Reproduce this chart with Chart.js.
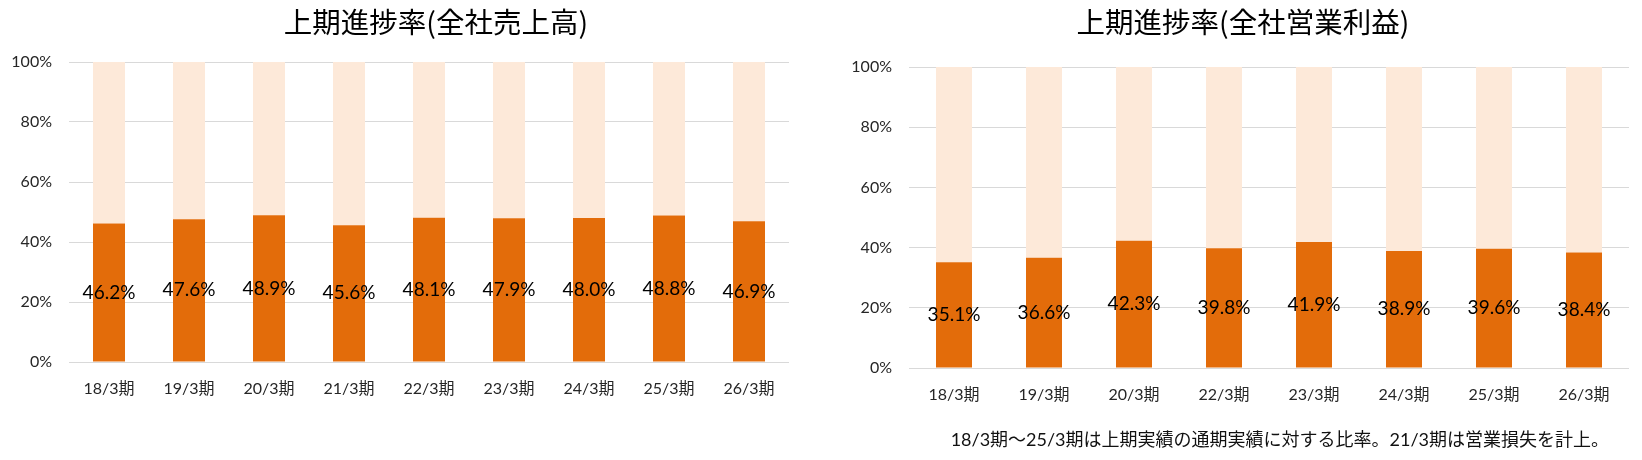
<!DOCTYPE html>
<html>
<head>
<meta charset="utf-8">
<script src="https://cdn.jsdelivr.net/npm/chart.js@4"></script>
<style>
  body { margin: 0; background: #fff; width: 1642px; height: 460px; position: relative; overflow: hidden; }
  .box { position: absolute; top: 0; height: 460px; }
  .title { position: absolute; top: 0; height: 42px; line-height: 42px; text-align: center; color: #000;
           font-family: "Noto Sans CJK JP", sans-serif; font-size: 28.5px; white-space: nowrap; }
  .note { position: absolute; color: #111; font-family: Lato, "Noto Sans CJK JP", sans-serif; font-size: 18px; white-space: nowrap; }
</style>
</head>
<body>
<div class="box" style="left:0;width:820px;"><canvas id="salesChart"></canvas></div>
<div class="box" style="left:820px;width:822px;"><canvas id="profitChart"></canvas></div>
<div class="title" style="left:229px;width:414px;">上期進捗率(全社売上高)</div>
<div class="title" style="left:1036px;width:414px;">上期進捗率(全社営業利益)</div>
<div class="note" style="right:33px;top:425px;">18/3期～25/3期は上期実績の通期実績に対する比率。21/3期は営業損失を計上。</div>
<script>
const salesLabels = ["18/3期", "19/3期", "20/3期", "21/3期", "22/3期", "23/3期", "24/3期", "25/3期", "26/3期"];
const salesRates = [46.2, 47.6, 48.9, 45.6, 48.1, 47.9, 48.0, 48.8, 46.9];

const profitLabels = ["18/3期", "19/3期", "20/3期", "22/3期", "23/3期", "24/3期", "25/3期", "26/3期"];
const profitRates = [35.1, 36.6, 42.3, 39.8, 41.9, 38.9, 39.6, 38.4];

const yTicks = [0, 20, 40, 60, 80, 100];

const darkOrange = "#E36C0A";
const lightOrange = "#FDE9D9";
const fontFamily = "Lato, 'Noto Sans CJK JP', sans-serif";

// draws the % text in the middle of the dark bars
const valueLabels = {
  id: "valueLabels",
  afterDatasetsDraw(chart) {
    const ctx = chart.ctx;
    const meta = chart.getDatasetMeta(0);
    ctx.save();
    ctx.font = "19px " + fontFamily;
    ctx.fillStyle = "#000";
    ctx.textAlign = "center";
    ctx.textBaseline = "middle";
    meta.data.forEach((bar, i) => {
      const v = chart.data.datasets[0].data[i];
      ctx.fillText(v.toFixed(1) + "%", bar.x, (bar.y + bar.base) / 2);
    });
    ctx.restore();
  }
};

function makeChart(id, labels, rates, opts) {
  const rest = rates.map(v => 100 - v);
  const ctx = document.getElementById(id).getContext("2d");
  return new Chart(ctx, {
    type: "bar",
    data: {
      labels: labels,
      datasets: [
        { data: rates, backgroundColor: darkOrange, barPercentage: 0.4, categoryPercentage: 1 },
        { data: rest, backgroundColor: lightOrange, barPercentage: 0.4, categoryPercentage: 1 }
      ]
    },
    options: {
      responsive: true,
      maintainAspectRatio: false,
      animation: false,
      layout: { padding: { top: opts.top, right: opts.right, left: 0, bottom: 0 } },
      plugins: { legend: { display: false }, tooltip: { enabled: false } },
      scales: {
        x: {
          stacked: true,
          grid: { display: false },
          border: { display: false },
          ticks: { color: "#262626", font: { family: fontFamily, size: 16 }, padding: 9 },
          afterFit: s => { s.height = opts.xHeight; }
        },
        y: {
          stacked: true,
          min: 0,
          max: 100,
          afterBuildTicks: s => { s.ticks = yTicks.map(v => ({ value: v })); },
          grid: { color: "#D9D9D9", drawTicks: false },
          border: { display: false },
          ticks: { color: "#262626", font: { family: fontFamily, size: 16 }, padding: 17, callback: v => v + "%" },
          afterFit: s => { s.width = opts.yWidth; }
        }
      }
    },
    plugins: [valueLabels]
  });
}

makeChart("salesChart", salesLabels, salesRates, { top: 62, right: 31, xHeight: 98, yWidth: 69 });
makeChart("profitChart", profitLabels, profitRates, { top: 67, right: 13, xHeight: 92, yWidth: 89 });
</script>
</body>
</html>
